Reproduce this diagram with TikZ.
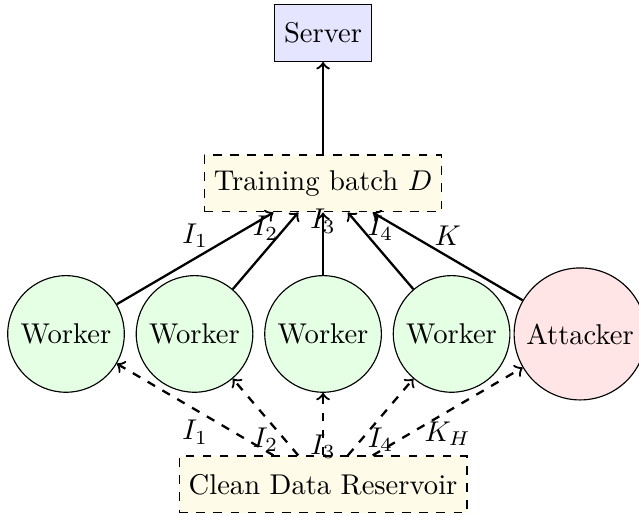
\documentclass[tikz,border=0pt]{standalone}
\usepackage{amsfonts,amssymb,amsmath}
\usetikzlibrary{positioning}
\definecolor{cream}{RGB}{254,251,233}

\begin{document}
\begin{tikzpicture}[node distance={1.58cm}, on grid, main/.style = {draw, circle}, data/.style = {draw, dashed, fill=cream, minimum height=0.7cm}, link/.style = {->, thick}, feed/.style = {->, thick, dashed}]
            \useasboundingbox (-113pt,-63.6pt) rectangle (110.5pt,116.8pt);
            \node[main,fill=green!10] (3) {Worker};
            \node[main,fill=green!10] (2) [left=of 3] {Worker};
            \node[main,fill=green!10] (1) [left=of 2] {Worker};
            \node[main,fill=green!10] (4) [right=of 3] {Worker};
            \node[main,fill=red!10] (5) [right=of 4] {Attacker};
            \node[data] (batch) [above=1.85cm of 3] {Training batch $D$};
            \node[draw,fill=blue!10,minimum height=0.7cm] (server) [above=1.85cm of batch] {Server};
            \node[data] (pool) [below=1.85cm of 3] {Clean Data Reservoir};
            
            \draw[link] (batch) to (server);
            \draw[link] (1) to node[midway,above] {$I_1$} (batch);
            \draw[link] (2) to node[midway,above] {$I_2$} (batch);
            \draw[link] (3) to node[midway,above] {$I_3$} (batch);
            \draw[link] (4) to node[midway,above] {$I_4$} (batch);
            \draw[link] (5) to node[midway,above] {$K$} (batch);
            \draw[feed] (pool) to node[midway,below] {$I_1$} (1);
            \draw[feed] (pool) to node[midway,below] {$I_2$} (2);
            \draw[feed] (pool) to node[midway,below] {$I_3$} (3);
            \draw[feed] (pool) to node[midway,below] {$I_4$} (4);
            \draw[feed] (pool) to node[midway,below] {$K_H$} (5);

        \end{tikzpicture}
\end{document}
